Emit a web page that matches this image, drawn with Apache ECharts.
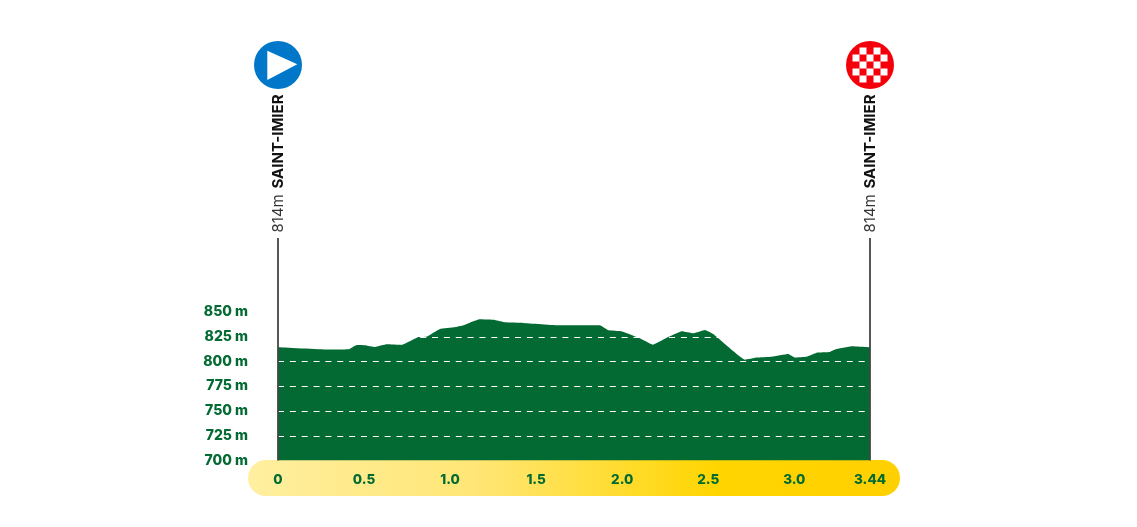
<!DOCTYPE html>
<html>
<head>
<meta charset="utf-8">
<style>html,body{margin:0;padding:0;background:#fff}#c{width:1137px;height:527px}</style>
<script src="https://cdn.jsdelivr.net/npm/echarts@6/dist/echarts.min.js"></script>
</head>
<body>
<div id="c"></div>
<script>
const distanceKm = [0,0.29,0.41,0.457,0.505,0.564,0.632,0.719,0.815,0.864,0.941,1.028,1.077,1.17,1.261,1.319,1.424,1.639,1.871,1.919,1.997,2.103,2.177,2.259,2.346,2.413,2.481,2.529,2.714,2.781,2.869,2.965,3.004,3.072,3.13,3.207,3.236,3.333,3.44];
const elevationM = [814.3,812,812.3,816.7,816.5,814.6,817.3,816.7,824.7,825,832.8,834.5,836.5,842.6,842,839.6,839,836.5,836.5,831.5,830.5,823.4,817,824,830.5,828.5,831.8,827.8,801.8,804,804.8,807.6,804,804.8,808.9,809.6,812,815.3,814.3];
const xTickValues = [0,0.5,1,1.5,2,2.5,3,3.44];
const xTickLabels = ['0','0.5','1.0','1.5','2.0','2.5','3.0','3.44'];
const yTickValues = [700,725,750,775,800,825,850];
const places = [
  {km:0, name:'SAINT-IMIER', alt:'814m', kind:'start'},
  {km:3.44, name:'SAINT-IMIER', alt:'814m', kind:'finish'}
];

const GREEN = '#026A32';
const chart = echarts.init(document.getElementById('c'), null, {renderer:'canvas', width:1137, height:527});

function placeItem(params, api) {
  const p = places[params.dataIndex];
  const base = api.coord([p.km, 700]);
  const x = base[0], yb = base[1];
  const cy = 65, r = 24;
  const kids = [
    {type:'line', shape:{x1:x, y1:yb, x2:x, y2:238}, style:{stroke:'#444', lineWidth:1.8}},
    {type:'text', x:x+0.5, y:232.5, rotation:Math.PI/2,
      style:{text:p.alt, font:'15px Inter', fill:'#333', align:'left', verticalAlign:'middle'}},
    {type:'text', x:x+0.5, y:188.5, rotation:Math.PI/2,
      style:{text:p.name, font:'bold 15px Inter', fill:'#111', align:'left', verticalAlign:'middle'}}
  ];
  if (p.kind === 'start') {
    kids.push({type:'circle', shape:{cx:x, cy:cy, r:r}, style:{fill:'#0077C8'}});
    kids.push({type:'polygon', shape:{points:[[x-10.7,cy-14.3],[x+19.3,cy-0.7],[x-10.7,cy+15]]}, style:{fill:'#fff'}});
  } else {
    kids.push({type:'circle', shape:{cx:x, cy:cy, r:r}, style:{fill:'#F5000A'}});
    const s = 7;
    for (let i=-2;i<=2;i++) for (let j=-2;j<=2;j++) {
      if ((i+j+8)%2===1) kids.push({type:'rect', shape:{x:x+i*s-s/2, y:cy+j*s-s/2, width:s, height:s}, style:{fill:'#fff'}});
    }
  }
  return {type:'group', children:kids};
}

chart.setOption({
  animation:false,
  backgroundColor:'#fff',
  graphic:[{
    type:'rect', z:-1, shape:{x:248, y:460, width:652, height:36, r:18},
    style:{fill:new echarts.graphic.LinearGradient(0,0,1,0,[
      {offset:0,color:'#FFEFA0'},{offset:0.35,color:'#FFE675'},{offset:0.72,color:'#FFD500'},{offset:1,color:'#FFD000'}
    ])}
  }],
  grid:{left:278, width:592, top:15, height:445.5, containLabel:false},
  xAxis:{
    type:'value', min:0, max:3.44, interval:0.5,
    axisLine:{show:false}, axisTick:{show:false}, splitLine:{show:false},
    axisLabel:{
      margin:12, color:GREEN, fontFamily:'Inter', fontWeight:800, fontSize:13.5,
      showMinLabel:true, showMaxLabel:true,
      formatter:v => { const i = xTickValues.indexOf(+v); return i>=0 ? xTickLabels[i] : ''; }
    }
  },
  yAxis:{
    type:'value', min:700, max:1150, interval:25, z:5,
    axisLine:{show:false}, axisTick:{show:false},
    axisLabel:{
      margin:30, color:GREEN, fontFamily:'Inter', fontWeight:800, fontSize:14,
      formatter:v => yTickValues.indexOf(+v)>=0 ? v+' m' : ''
    },
    splitLine:{show:true, showMinLine:false, lineStyle:{color:'#fff', width:1.1, type:[6,5.85], dashOffset:0}}
  },
  series:[
    {
      type:'line', z:2, data:distanceKm.map((d,i)=>[d,elevationM[i]]),
      showSymbol:false, smooth:0.08, lineStyle:{width:0}, itemStyle:{color:GREEN},
      areaStyle:{color:GREEN, opacity:1, origin:'start'}
    },
    {
      type:'custom', z:10, clip:false, coordinateSystem:'cartesian2d',
      data:places.map(p=>[p.km,700]), renderItem:placeItem, silent:true
    }
  ]
});
</script>
</body>
</html>
